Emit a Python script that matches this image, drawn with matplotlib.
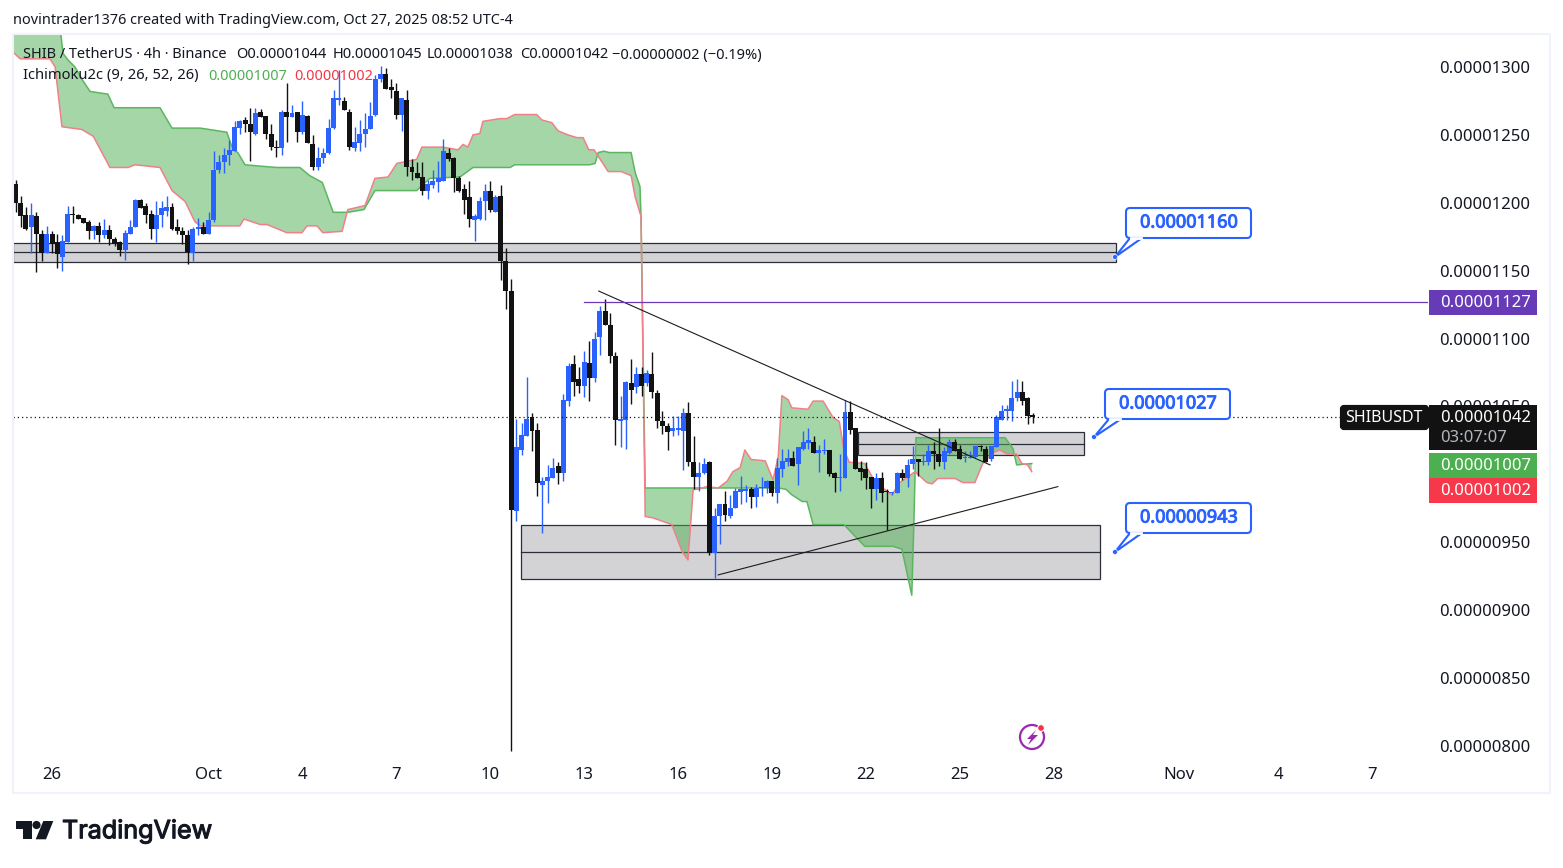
import numpy as np
from matplotlib import patheffects, pyplot as plt
from matplotlib.patches import Circle, FancyBboxPatch, Polygon, Rectangle

# prices are in units of 0.00000001
opens = [1214, 1200, 1191, 1182, 1190, 1177, 1163, 1177, 1171, 1160,
         1171, 1192, 1191, 1189, 1186, 1179, 1183, 1176, 1180, 1173,
         1171, 1165, 1177, 1182, 1202, 1198, 1192, 1181, 1191, 1194,
         1197, 1182, 1179, 1176, 1163, 1181, 1182, 1177, 1187, 1224,
         1230, 1235, 1238, 1255, 1261, 1258, 1251, 1267, 1264, 1251,
         1241, 1240, 1267, 1263, 1267, 1252, 1264, 1243, 1226, 1233,
         1237, 1255, 1276, 1275, 1267, 1240, 1244, 1251, 1254, 1265,
         1291, 1295, 1285, 1282, 1265, 1276, 1226, 1222, 1219, 1209,
         1213, 1215, 1216, 1237, 1233, 1218, 1210, 1204, 1187, 1188,
         1201, 1209, 1193, 1205, 1157, 1135, 973, 1018, 1028, 1042,
         1033, 992, 995, 997, 1006, 1001, 1054, 1081, 1070, 1065,
         1082, 1071, 1101, 1120, 1110, 1087, 1039, 1040, 1067, 1064,
         1074, 1067, 1074, 1060, 1039, 1036, 1032, 1033, 1032, 1045,
         1009, 998, 1001, 1009, 942, 969, 978, 969, 975, 987,
         988, 989, 983, 990, 990, 995, 986, 1004, 1009, 1012,
         1008, 1019, 1023, 1024, 1016, 1017, 1018, 1001, 997, 997,
         1046, 1034, 1005, 1004, 998, 989, 997, 988, 986, 986,
         1001, 997, 1008, 1011, 1009, 1009, 1017, 1015, 1009, 1016,
         1024, 1019, 1012, 1012, 1013, 1021, 1019, 1011, 1020, 1040,
         1047, 1047, 1056, 1061, 1056, 1044]
highs = [1217, 1205, 1197, 1200, 1193, 1180, 1183, 1179, 1177, 1176,
         1198, 1198, 1192, 1189, 1187, 1184, 1186, 1188, 1184, 1175,
         1172, 1180, 1187, 1203, 1203, 1200, 1195, 1201, 1201, 1205,
         1200, 1188, 1182, 1180, 1182, 1189, 1186, 1193, 1238, 1235,
         1240, 1246, 1260, 1261, 1263, 1270, 1270, 1269, 1264, 1258,
         1246, 1268, 1288, 1272, 1267, 1275, 1265, 1250, 1241, 1240,
         1262, 1283, 1298, 1278, 1269, 1256, 1261, 1266, 1274, 1294,
         1301, 1299, 1291, 1288, 1277, 1283, 1232, 1230, 1230, 1217,
         1224, 1231, 1247, 1240, 1234, 1220, 1214, 1216, 1192, 1204,
         1214, 1216, 1206, 1213, 1167, 1144, 1041, 1038, 1072, 1045,
         1038, 998, 1007, 1012, 1009, 1059, 1082, 1088, 1079, 1091,
         1098, 1105, 1124, 1129, 1119, 1090, 1058, 1069, 1085, 1079,
         1079, 1077, 1090, 1062, 1047, 1038, 1043, 1043, 1049, 1053,
         1028, 1009, 1012, 1010, 975, 978, 988, 985, 990, 999,
         992, 991, 993, 998, 996, 995, 1012, 1019, 1019, 1017,
         1020, 1032, 1034, 1028, 1022, 1026, 1018, 1002, 1015, 1055,
         1054, 1034, 1010, 1009, 998, 1001, 1002, 989, 987, 1002,
         1004, 1011, 1021, 1011, 1015, 1022, 1024, 1034, 1020, 1026,
         1026, 1022, 1017, 1017, 1021, 1022, 1021, 1021, 1044, 1051,
         1051, 1069, 1070, 1069, 1057, 1045]
lows = [1193, 1182, 1180, 1163, 1149, 1157, 1163, 1163, 1152, 1150,
        1171, 1185, 1188, 1185, 1173, 1173, 1171, 1174, 1169, 1168,
        1161, 1158, 1177, 1182, 1196, 1185, 1173, 1171, 1182, 1190,
        1180, 1177, 1170, 1155, 1157, 1176, 1177, 1177, 1186, 1222,
        1222, 1228, 1238, 1251, 1252, 1231, 1250, 1263, 1247, 1239,
        1234, 1235, 1245, 1263, 1245, 1251, 1244, 1224, 1224, 1229,
        1236, 1254, 1272, 1268, 1239, 1238, 1238, 1241, 1254, 1264,
        1289, 1284, 1277, 1262, 1253, 1220, 1217, 1218, 1206, 1203,
        1211, 1208, 1216, 1231, 1208, 1208, 1192, 1182, 1172, 1187,
        1187, 1193, 1193, 1143, 1122, 796, 966, 1014, 1028, 1017,
        984, 957, 979, 997, 993, 995, 1050, 1058, 1060, 1057,
        1054, 1068, 1088, 1110, 1082, 1022, 1020, 1019, 1052, 1060,
        1058, 1065, 1056, 1034, 1030, 1018, 1028, 1029, 1003, 1006,
        989, 988, 1000, 941, 924, 949, 966, 968, 975, 978,
        980, 975, 976, 984, 986, 984, 979, 998, 1006, 1006,
        992, 1018, 1019, 1016, 1002, 1015, 999, 987, 988, 997,
        1030, 1004, 996, 989, 975, 981, 980, 959, 985, 986,
        996, 991, 1004, 999, 1007, 1007, 1004, 1006, 1004, 1015,
        1017, 1011, 1009, 1012, 1012, 1017, 1009, 1010, 1020, 1040,
        1040, 1039, 1054, 1051, 1037, 1038]
closes = [1200, 1190, 1181, 1191, 1177, 1163, 1177, 1170, 1162, 1172,
          1192, 1191, 1188, 1185, 1179, 1183, 1176, 1180, 1173, 1170,
          1165, 1178, 1182, 1202, 1196, 1191, 1181, 1191, 1196, 1197,
          1181, 1179, 1176, 1164, 1181, 1182, 1177, 1187, 1224, 1230,
          1235, 1239, 1256, 1260, 1258, 1252, 1266, 1263, 1251, 1241,
          1240, 1267, 1263, 1266, 1252, 1265, 1244, 1226, 1233, 1237,
          1255, 1277, 1277, 1268, 1241, 1245, 1251, 1254, 1264, 1291,
          1295, 1284, 1283, 1265, 1277, 1226, 1223, 1218, 1209, 1214,
          1216, 1218, 1238, 1232, 1218, 1209, 1202, 1188, 1190, 1201,
          1209, 1195, 1204, 1157, 1135, 974, 1020, 1029, 1041, 1032,
          994, 995, 998, 1005, 1001, 1055, 1080, 1068, 1065, 1083,
          1071, 1100, 1120, 1110, 1087, 1040, 1041, 1068, 1062, 1074,
          1065, 1075, 1061, 1039, 1036, 1031, 1034, 1034, 1045, 1009,
          998, 1001, 1008, 942, 969, 978, 970, 975, 988, 989,
          989, 983, 990, 991, 995, 986, 1005, 1010, 1012, 1006,
          1020, 1024, 1025, 1016, 1018, 1018, 1000, 997, 998, 1046,
          1033, 1004, 1002, 997, 989, 997, 986, 987, 987, 1001,
          997, 1007, 1011, 1009, 1010, 1017, 1015, 1009, 1017, 1024,
          1017, 1011, 1013, 1013, 1021, 1020, 1009, 1021, 1042, 1047,
          1048, 1056, 1061, 1054, 1043, 1042]

# ichimoku cloud edges, read as bar position / price
span_a_bars = [-0.5, 8.5, 8.7, 9.1, 10.1, 11.4, 12.9, 14.3, 17.7, 18.9, 27.7, 30, 35.4, 40.5, 41.7,
               42.6, 44, 46.9, 50.1, 54.5, 56.4, 58.8, 60.9, 63.7, 66.8, 68.9, 76.9, 79.4, 85.2,
               87.7, 94.8, 95.7, 110.1, 111.1, 111.7, 112.8, 113.8, 118, 118.8, 119.7, 119.9,
               120.7, 146.2, 147.7, 148.8, 150.8, 151.7, 152.9, 158.8, 162.8, 168.2, 169.9, 171.8,
               172.2, 172.6, 189.7, 191.2, 191.9, 194.8]
span_a_vals = [1335, 1335, 1324, 1310, 1305, 1300, 1290, 1282, 1280, 1270, 1270, 1255, 1255, 1252, 1239,
               1237, 1228, 1227, 1226, 1226, 1220, 1215, 1193, 1193, 1195, 1209, 1209, 1218, 1219,
               1226, 1226, 1228, 1228, 1229, 1237, 1238, 1237, 1237, 1222, 1212, 1190,
               990, 990, 989, 985, 980, 980, 963, 963, 947, 947, 945, 911,
               964, 1027, 1027, 1019, 1007, 1008]
span_b_bars = [-0.5, 0.9, 6.6, 7.6, 8.9, 12.7, 14.9, 18.1, 21.6, 22.9, 27.7, 30, 32.5, 34.4, 35.4, 43,
               43.8, 46.9, 48.2, 52, 54.9, 55.9, 57.8, 58.9, 62.6, 63.7, 67, 68.9, 71.4, 73.1, 76.9,
               77.9, 81.9, 84.8, 85.8, 86.7, 87.7, 89, 89.6, 92.9, 94.2, 95.7, 99.9, 100.9, 102.8,
               104, 105.9, 107.6, 108.8, 109.9, 110.9, 113.6, 116.1, 118, 118.8, 119.9, 120.7, 122.2,
               125.8, 127.8, 128.9, 129.9, 130.8, 132.5, 134.7, 136.4, 137.5, 138.9, 139.8, 141,
               143.7, 145.2, 146.2, 146.9, 148.1, 148.8, 151.9, 152.9, 154.8, 156.7, 157.9, 158.8,
               159.8, 162.8, 164.8, 168, 169.5, 171, 172.4, 174.7, 175.7, 176.8, 180.1, 181.6, 183.9,
               185.4, 187.4, 188.7, 190, 191.9, 192.9, 194, 194.8]
span_b_vals = [1311, 1306, 1306, 1300, 1256, 1254, 1249, 1226, 1226, 1228, 1226, 1209, 1201, 1186, 1183, 1183,
               1188, 1184, 1184, 1178, 1178, 1183, 1183, 1178, 1179, 1195, 1198, 1218, 1219, 1229, 1232,
               1241, 1241, 1239, 1243, 1241, 1250, 1251, 1260, 1262, 1262, 1265, 1265, 1261, 1259,
               1253, 1250, 1248, 1248, 1239, 1239, 1223, 1223, 1220, 1204, 1190, 969, 968,
               963, 943, 937, 989, 989, 991, 990, 995, 1002, 1005, 1018, 1011,
               1010, 996, 1013, 1058, 1055, 1049, 1048, 1054, 1054, 1042, 1039, 1018,
               1009, 1008, 994, 985, 994, 998, 1002, 994, 993, 997, 997, 994, 994,
               1008, 1016, 1018, 1015, 1015, 1008, 1007, 1002]

# drawn zones: first bar, last bar, low, high
zones = [(-0.5, 211, 1156.5, 1170.5), (96.9, 207.9, 923, 963), (161.5, 204.8, 1014, 1031)]
trend_lines = [((111.8, 186.8), (1135, 1007)), ((134.7, 199.8), (926, 991))]
high_line = 1127
last_price = 1042

price_ticks = [800, 850, 900, 950, 1050, 1100, 1150, 1200, 1250, 1300]
date_ticks = [7, 37, 55, 73, 91, 109, 127, 145, 163, 181, 199, 223, 242, 260]
date_labels = ['26', 'Oct', '4', '7', '10', '13', '16', '19', '22', '25', '28', 'Nov', '4', '7']

BLUE = '#2962ff'
BLACK = '#121212'
INK = '#131722'
FONT = 'Noto Sans'

plt.rcParams['font.family'] = [FONT, 'DejaVu Sans']

W, H = 1563, 868
fig = plt.figure(figsize=(W / 100, H / 100), dpi=100, facecolor='white')
ax = fig.add_axes([13 / W, (H - 757) / H, (1428 - 13) / W, (757 - 34) / H])
ax.set_xlim(-0.48, 270.75)
ax.set_ylim(791.9, 1324.3)
for s in ax.spines.values():
    s.set_visible(False)

for x0, x1, lo, hi in zones:
    ax.add_patch(Rectangle((x0, lo), x1 - x0, hi - lo, fc='#d3d3d6', ec='#2a2e39', lw=0.9, zorder=1))
    ax.plot([x0, x1], [(lo + hi) / 2, (lo + hi) / 2], color='#2a2e39', lw=0.9, zorder=1)

# cloud polygon, edges on top
ax.fill(span_a_bars + span_b_bars[::-1], span_a_vals + span_b_vals[::-1],
        color='#4caf50', alpha=0.5, lw=0, zorder=2)
ax.plot(span_a_bars, span_a_vals, color='#5cb660', lw=1.1, zorder=2.1)
ax.plot(span_b_bars, span_b_vals, color='#f0808a', lw=1.1, zorder=2.2)

bars = np.arange(len(opens))
opens = np.array(opens)
closes = np.array(closes)
colors = [BLUE if c > o else BLACK for o, c in zip(opens, closes)]
ax.vlines(bars, lows, highs, colors=colors, lw=1.0, zorder=3)
ax.bar(bars, np.abs(closes - opens), bottom=np.minimum(opens, closes), width=0.95,
       color=colors, lw=0, zorder=3.1)

for xs, ys in trend_lines:
    ax.plot(xs, ys, color='#1c1c1c', lw=0.8, zorder=4)
ax.plot([109, 270.75], [high_line, high_line], color='#673ab7', lw=0.9, zorder=4)
ax.plot([-0.48, 253.9], [last_price, last_price], color=INK, lw=0.9, ls=(0, (1, 2.4)), zorder=4)

ax.yaxis.tick_right()
ax.set_yticks(price_ticks)
ax.set_yticklabels([f'{t * 1e-8:.8f}' for t in price_ticks], fontsize=12, color=INK)
ax.set_xticks(date_ticks)
ax.set_xticklabels(date_labels, fontsize=12, color=INK)
ax.tick_params(axis='y', length=0, pad=8.0)
ax.tick_params(axis='x', length=0, pad=7.2)

# pixel overlay for the chrome around the chart
ov = fig.add_axes([0, 0, 1, 1], facecolor='none')
ov.set_xlim(0, W)
ov.set_ylim(H, 0)
ov.axis('off')

ov.add_patch(Rectangle((13, 34), 1537, 759, fc='none', ec='#f0f3fa', lw=1.5))

ov.text(13, 20.5, 'novintrader1376 created with TradingView.com, Oct 27, 2025 08:52 UTC-4',
        fontsize=10.4, color=INK, va='center')

legend_bits = [(23, 'SHIB / TetherUS · 4h · Binance'), (236, 'O0.00001044'), (333, 'H0.00001045'),
               (427, 'L0.00001038'), (520, 'C0.00001042'), (612, '−0.00000002 (−0.19%)')]
for x, txt in legend_bits:
    ov.text(x, 55, txt, fontsize=10.5, color=INK, va='center')
ov.text(23, 76, 'Ichimoku2c (9, 26, 52, 26)', fontsize=10.6, color=INK, va='center')
ov.text(208, 76, '0.00001007', fontsize=10.4, color='#4caf50', va='center')
ov.text(294, 76, '0.00001002', fontsize=10.4, color='#f23645', va='center')

# price scale labels
tags = [(290, 25, '#673ab7'), (405, 45, BLACK), (453, 25, '#4caf50'), (478, 25, '#f7374a')]
for y, h, col in tags:
    ov.add_patch(Rectangle((1429, y), 108, h, fc=col, ec='none'))
for y, txt in [(303, '0.00001127'), (418, '0.00001042'), (466, '0.00001007'), (491, '0.00001002')]:
    ov.text(1440, y, txt, fontsize=12, color='white', va='center')
ov.text(1440, 438, '03:07:07', fontsize=12, color='#b2b5be', va='center')
ov.add_patch(FancyBboxPatch((1342, 407), 85, 21, boxstyle='round,pad=0,rounding_size=2',
                            fc=BLACK, ec=BLACK, lw=3))
ov.text(1384, 418, 'SHIBUSDT', fontsize=11.5, color='white', va='center', ha='center')

# blue price callouts
for x0, y0, ax_pt, txt in [(1126, 208, (1115, 257), '0.00001160'),
                           (1105, 389, (1094, 437), '0.00001027'),
                           (1126, 503, (1115, 552), '0.00000943')]:
    ov.add_patch(FancyBboxPatch((x0, y0), 125, 30, boxstyle='round,pad=0,rounding_size=4',
                                fc='white', ec=BLUE, lw=1.5, zorder=5))
    ov.add_patch(Polygon([ax_pt, (x0 + 4, y0 + 30), (x0 + 16, y0 + 30)], closed=True,
                         fc='white', ec=BLUE, lw=1.5, zorder=5.1))
    ov.plot([x0 + 5, x0 + 15], [y0 + 30, y0 + 30], color='white', lw=2, zorder=5.2)
    ov.add_patch(Circle(ax_pt, 2.5, fc=BLUE, ec='white', lw=0.5, zorder=5.3))
    ov.text(x0 + 63, y0 + 14.5, txt, fontsize=13, color=BLUE, ha='center', va='center', zorder=6,
            path_effects=[patheffects.withStroke(linewidth=0.7, foreground=BLUE)])

# lightning badge
ov.add_patch(Circle((1032, 737), 12, fc='white', ec='#9c27b0', lw=1.6))
ov.add_patch(Polygon([(1036, 730), (1027, 739), (1031, 739), (1028, 745), (1038, 735), (1033, 735)],
                     closed=True, fc='#9c27b0', ec='none'))
ov.add_patch(Circle((1041, 728), 3.4, fc='#f23645', ec='white', lw=0.8))

# footer logo
ov.add_patch(Polygon([(15.7, 821), (32.3, 821), (32.3, 839.3), (23.3, 839.3), (23.3, 829.3), (15.7, 829.3)],
                     closed=True, fc=INK, ec='none'))
ov.add_patch(Circle((36.5, 825), 4.1, fc=INK, ec='none'))
ov.add_patch(Polygon([(53.3, 821), (46, 839.3), (35.7, 839.3), (43.3, 821)], closed=True, fc=INK, ec='none'))
ov.text(62, 831.5, 'TradingView', fontsize=18.1, color=INK, va='center', family='Inter',
        path_effects=[patheffects.withStroke(linewidth=0.8, foreground=INK)])

fig.savefig('out.png', dpi=100)
